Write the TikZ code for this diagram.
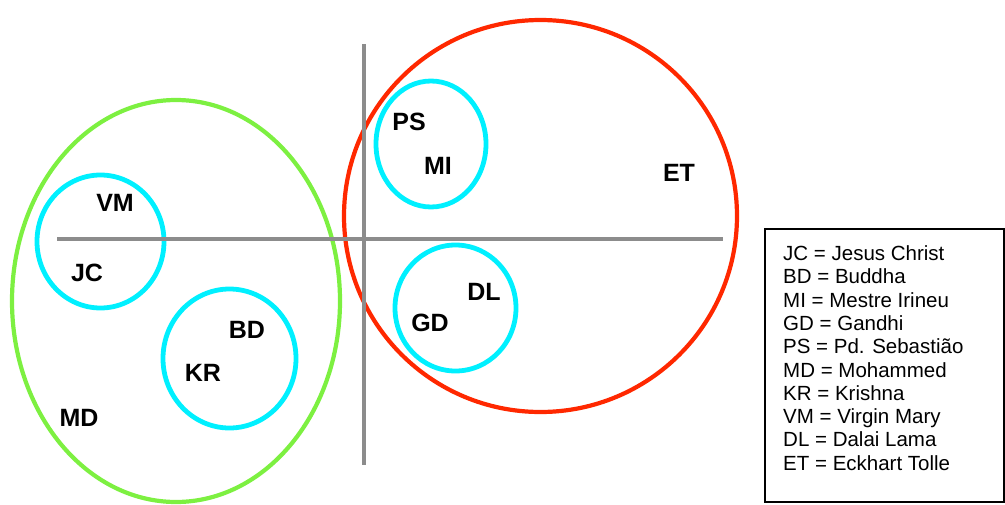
\documentclass[tikz,border=0pt]{standalone}
\usepackage{fontspec}
\setmainfont{Liberation Sans}
\usetikzlibrary{positioning}

\definecolor{grpgreen}{RGB}{125,240,65}
\definecolor{grpred}{RGB}{255,40,0}
\definecolor{grpcyan}{RGB}{0,240,255}
\definecolor{axisgray}{RGB}{140,140,140}

\tikzset{
  group/.style={line width=4.2pt},
  sub/.style={grpcyan, line width=4.8pt},
  axisline/.style={axisgray, line width=4.8pt},
  who/.style={font=\fontsize{25}{25}\selectfont\bfseries, inner sep=0pt},
  legline/.style={font=\fontsize{20.5}{23}\selectfont, inner sep=0pt, anchor=base west},
}

\begin{document}
\begin{tikzpicture}[x=1pt, y=-1pt]

\useasboundingbox (0,0) rectangle (1005,504);

%\draw[step=50, color=gray!40] (0,0) grid (1005,504);

% big groups
\draw[group, grpgreen] (176,301) ellipse (164 and 201);
\draw[group, grpred] (540.5,216) ellipse (196.5 and 196);

% small groups
\draw[sub] (100.5,241.5) ellipse (63.5 and 66.5);
\draw[sub] (229.5,358.5) ellipse (66.5 and 69.5);
\draw[sub] (431,144) ellipse (55 and 63);
\draw[sub] (455.5,308) ellipse (60.5 and 63);

% axes
\draw[axisline] (57,239) -- (723,239);
\draw[axisline] (364,44) -- (364,465);

    	\foreach \n/\x/\y in {VM/115/203, JC/87/273, BD/247/330, KR/203/373,
    	    MD/79/418, PS/409/122, MI/438/166, ET/679/173, DL/484/292, GD/430/323}
     		\node[who] (\n) at (\x,\y) {\n};

% legend
\node[draw, line width=1.5pt, minimum width=239, minimum height=273, anchor=north west, inner sep=0pt] (legend) at (764,228) {};

    	\foreach \k/\txt [count=\i] in {JC/Jesus Christ, BD/Buddha, MI/Mestre Irineu,
    	    GD/Gandhi, PS/Pd. Sebastião, MD/Mohammed, KR/Krishna, VM/Virgin Mary,
    	    DL/Dalai Lama, ET/Eckhart Tolle}
     		\node[legline] (leg\k) at (783, 260.5+23.3*\i-23.3) {\k{} = \txt};

\end{tikzpicture}
\end{document}
